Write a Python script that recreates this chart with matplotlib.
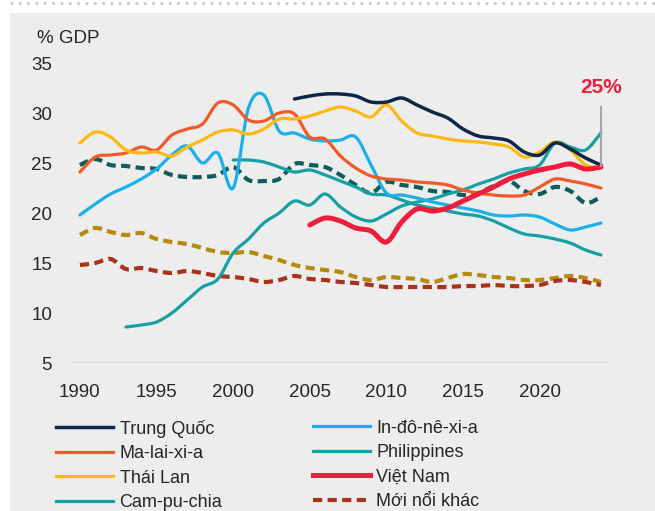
import matplotlib
matplotlib.use('Agg')
import matplotlib.pyplot as plt
from matplotlib.lines import Line2D
from matplotlib.patches import Rectangle, PathPatch
from matplotlib.path import Path
import numpy as np

plt.rcParams['font.family'] = ['Liberation Sans', 'DejaVu Sans']

# du lieu (% GDP)
trung_quoc_start = 2004
trung_quoc = [31.4, 31.7, 31.9, 31.9, 31.7, 31.1, 31.1, 31.5, 30.8, 30.1, 29.5,
              28.4, 27.7, 27.5, 27.2, 26.1, 25.8, 27.0, 26.4, 25.5, 24.8]
indo_start = 1990
indo = [19.8, 20.9, 21.9, 22.6, 23.4, 24.4, 25.8, 26.7, 25.0, 26.0, 22.5, 30.5,
        31.8, 28.2, 28.0, 27.4, 27.2, 27.3, 27.6, 24.8, 22.0, 21.8, 21.5, 21.1,
        20.8, 20.5, 20.2, 19.8, 19.7, 19.8, 19.6, 18.9, 18.3, 18.6, 19.0]
malay_start = 1990
malay = [24.1, 25.6, 25.8, 26.0, 26.6, 26.3, 27.8, 28.4, 28.9, 31.0, 30.8, 29.3,
         29.2, 30.0, 29.9, 27.6, 27.4, 25.7, 24.5, 23.7, 23.4, 23.3, 23.1, 23.0,
         22.8, 22.3, 22.0, 21.8, 21.7, 21.8, 22.6, 23.4, 23.2, 22.9, 22.5]
phil_start = 2000
phil = [25.3, 25.3, 25.1, 24.6, 24.1, 24.3, 23.8, 23.2, 22.6, 21.9, 21.8, 21.3,
        20.8, 20.5, 20.2, 19.9, 19.7, 19.2, 18.5, 17.9, 17.7, 17.4, 17.0, 16.3, 15.8]
thai_start = 1990
thai = [27.0, 28.1, 27.6, 26.3, 26.0, 26.1, 25.7, 26.6, 27.3, 28.1, 28.3, 27.9,
        28.4, 29.4, 29.4, 29.7, 30.2, 30.6, 30.2, 29.6, 30.8, 29.2, 28.0, 27.7,
        27.4, 27.2, 27.1, 26.9, 26.6, 25.6, 26.1, 27.1, 26.3, 24.8, 24.5]
vn_start = 2005
vn = [18.8, 19.5, 19.2, 18.5, 18.2, 17.1, 19.1, 20.4, 20.2, 20.5, 21.2, 21.9,
      22.6, 23.4, 23.9, 24.3, 24.6, 24.9, 24.4, 24.6]
cam_start = 1993
cam = [8.6, 8.8, 9.1, 10.0, 11.3, 12.6, 13.4, 16.0, 17.4, 19.0, 20.0, 21.2, 20.8,
       21.9, 20.6, 19.6, 19.2, 19.9, 20.7, 21.1, 21.4, 21.9, 22.3, 22.9, 23.4,
       24.0, 24.4, 24.8, 27.0, 26.6, 26.3, 28.0]
moi_noi_start = 1990
moi_noi = [14.8, 15.0, 15.4, 14.4, 14.5, 14.2, 14.0, 14.2, 14.0, 13.7, 13.6, 13.4,
           13.1, 13.3, 13.7, 13.4, 13.3, 13.1, 13.0, 12.8, 12.6, 12.6, 12.6, 12.6,
           12.6, 12.7, 12.7, 12.8, 12.7, 12.7, 12.8, 13.2, 13.3, 13.1, 12.8]
# hai duong net dut khong co trong chu giai
teal_dash = [24.8, 25.4, 24.8, 24.7, 24.5, 24.4, 23.8, 23.6, 23.6, 23.8, 24.6, 23.3,
             23.2, 23.4, 24.9, 24.8, 24.6, 23.8, 22.8, 22.0, 23.1, 22.8, 22.6, 22.2,
             22.1, 21.8, 22.0, 22.7, 23.2, 22.2, 21.9, 22.6, 22.2, 21.0, 21.6]
gold_dash = [17.8, 18.5, 18.1, 17.8, 18.0, 17.4, 17.1, 16.9, 16.5, 16.1, 16.0, 16.1,
             15.7, 15.3, 14.8, 14.5, 14.3, 14.1, 13.6, 13.3, 13.6, 13.5, 13.4, 13.1,
             13.5, 13.9, 13.8, 13.6, 13.5, 13.3, 13.3, 13.5, 13.7, 13.5, 13.1]

xticks = [1990, 1995, 2000, 2005, 2010, 2015, 2020]
yticks = [5, 10, 15, 20, 25, 30, 35]


# duong cong muot kieu Excel (Bezier qua cac diem du lieu)
def smooth_line(ax, start, vals, **kw):
    pts = np.column_stack([np.arange(start, start + len(vals)), vals]).astype(float)
    n = len(pts)
    verts = [pts[0]]
    codes = [Path.MOVETO]
    for i in range(n - 1):
        p0 = pts[i - 1] if i > 0 else pts[i]
        p1, p2 = pts[i], pts[i + 1]
        p3 = pts[i + 2] if i + 2 < n else pts[i + 1]
        verts += [p1 + (p2 - p0) / 6, p2 - (p3 - p1) / 6, p2]
        codes += [Path.CURVE4] * 3
    ax.add_patch(PathPatch(Path(verts, codes), fill=False, **kw))
    return Line2D([], [], color=kw['edgecolor'], lw=kw['lw'], ls=kw.get('ls', '-'))


fig = plt.figure(figsize=(6.55, 5.11), dpi=100)
fig.patch.set_facecolor('white')
fig.add_artist(Rectangle((0.015, 0), 0.985, 0.975, transform=fig.transFigure,
                         facecolor='#ededed', edgecolor='none', zorder=-10))
fig.add_artist(Line2D([0.015, 1.0], [0.994, 0.994], transform=fig.transFigure,
                      color='#c8c8c8', lw=2, ls=(0, (1, 2))))

ax = fig.add_axes([0.1115, 0.2896, 0.8153, 0.5871])
ax.set_facecolor('none')

dash = (0, (2.2, 1.3))
teal = '#17a0a4'
smooth_line(ax, 1990, gold_dash, edgecolor='#b58a0c', lw=3, ls=dash)
h = {}
h['Mới nổi khác'] = smooth_line(ax, moi_noi_start, moi_noi, edgecolor='#a8321a', lw=3, ls=dash)
smooth_line(ax, 1990, teal_dash, edgecolor='#0f5c5a', lw=3, ls=dash)
h['Cam-pu-chia'] = smooth_line(ax, cam_start, cam, edgecolor=teal, lw=2.3, capstyle='round')
h['Philippines'] = smooth_line(ax, phil_start, phil, edgecolor=teal, lw=2.3, capstyle='round')
h['In-đô-nê-xi-a'] = smooth_line(ax, indo_start, indo, edgecolor='#1cb0e8', lw=2.3, capstyle='round')
h['Ma-lai-xi-a'] = smooth_line(ax, malay_start, malay, edgecolor='#f15a29', lw=2.3, capstyle='round')
h['Thái Lan'] = smooth_line(ax, thai_start, thai, edgecolor='#fdb913', lw=2.3, capstyle='round')
h['Trung Quốc'] = smooth_line(ax, trung_quoc_start, trung_quoc, edgecolor='#0f2747', lw=2.5,
                              capstyle='round')
h['Việt Nam'] = smooth_line(ax, vn_start, vn, edgecolor='#ee1d3c', lw=3.6, capstyle='round')

# nhan 25%
last_year = vn_start + len(vn) - 1
ax.vlines(last_year, vn[-1], 30.7, color='#a6a6a6', lw=1.5, zorder=5)
ax.text(last_year, 32.6, '%d%%' % round(vn[-1]), color='#ee1d3c', fontsize=15,
        fontweight='bold', ha='center', va='center')

ax.set_xlim(1989.55, 2024.4)
ax.set_ylim(5, 35)
for s in ax.spines.values():
    s.set_visible(False)
ax.axhline(5, color='#d9d9d9', lw=2.5, zorder=0)
ax.set_xticks(xticks)
ax.set_yticks(yticks)
ax.tick_params(length=0, labelsize=13.5, labelcolor='#262626')
ax.tick_params(axis='x', pad=15)
ax.tick_params(axis='y', pad=15)
fig.text(0.104, 0.925, '% GDP', fontsize=13.5, color='#262626', ha='center', va='center')

col1 = ['Trung Quốc', 'Ma-lai-xi-a', 'Thái Lan', 'Cam-pu-chia']
col2 = ['In-đô-nê-xi-a', 'Philippines', 'Việt Nam', 'Mới nổi khác']
kw = dict(frameon=False, handlelength=3.15, handletextpad=0.35,
          labelspacing=0.42, borderaxespad=0, labelcolor='#262626',
          prop={'family': ['Liberation Sans Narrow', 'Liberation Sans'], 'size': 13})
fig.legend([h[k] for k in col1], col1, loc='upper left',
           bbox_to_anchor=(0.075, 0.193), **kw)
fig.legend([h[k] for k in col2], col2, loc='upper left',
           bbox_to_anchor=(0.467, 0.193), **kw)

fig.savefig('out.png', dpi=100)
